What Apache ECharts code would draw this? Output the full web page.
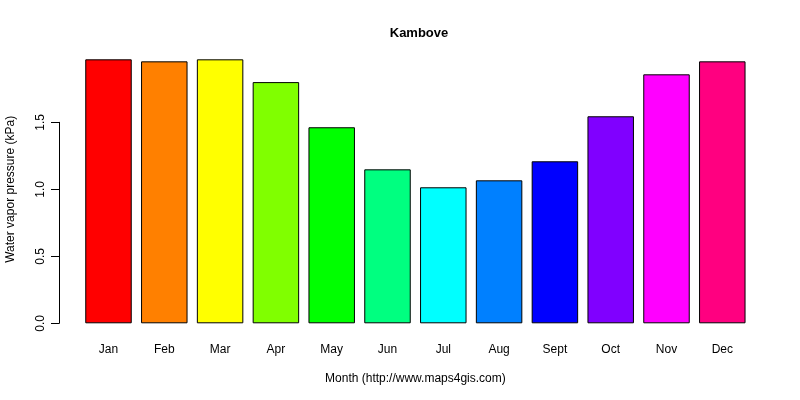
<!DOCTYPE html>
<html>
<head>
<meta charset="utf-8">
<script src="https://cdn.jsdelivr.net/npm/echarts@6/dist/echarts.min.js"></script>
<style>
html, body { margin: 0; padding: 0; background: #fff; }
#chart { width: 800px; height: 400px; }
</style>
</head>
<body>
<div id="chart"></div>
<script>
// 月份与水汽压数据
var months = ['Jan', 'Feb', 'Mar', 'Apr', 'May', 'Jun', 'Jul', 'Aug', 'Sept', 'Oct', 'Nov', 'Dec'];
var vapor = [1.97, 1.955, 1.97, 1.80, 1.463, 1.149, 1.015, 1.067, 1.209, 1.545, 1.858, 1.955];
var barColors = ['#FF0000', '#FF8000', '#FFFF00', '#80FF00', '#00FF00', '#00FF80',
                 '#00FFFF', '#0080FF', '#0000FF', '#8000FF', '#FF00FF', '#FF0080'];
var yTicks = [0, 0.5, 1.0, 1.5];

var font = 'Liberation Sans, Arial, sans-serif';

var option = {
    animation: false,
    backgroundColor: '#fff',
    title: {
        text: 'Kambove',
        left: 414,
        textAlign: 'center',
        top: 22,
        textStyle: { fontFamily: font, fontSize: 13, fontWeight: 'bold', color: '#000' }
    },
    grid: [
        // 柱状图区域
        { left: 80.6, right: 49.8, top: 55.3, bottom: 76.7, outerBoundsMode: 'none', containLabel: false },
        // 只画纵轴 (0 - 1.5)
        { left: 59, width: 1, top: 122.3, bottom: 76.7, outerBoundsMode: 'none', containLabel: false }
    ],
    xAxis: [
        {
            gridIndex: 0,
            type: 'category',
            data: months,
            axisLine: { show: false },
            axisTick: { show: false },
            axisLabel: { fontFamily: font, fontSize: 12, color: '#000', margin: 20 },
            name: 'Month (http://www.maps4gis.com)',
            nameLocation: 'middle',
            nameGap: 49,
            nameTextStyle: { fontFamily: font, fontSize: 12, color: '#000' }
        },
        {
            gridIndex: 1,
            type: 'value',
            show: false
        }
    ],
    yAxis: [
        {
            gridIndex: 0,
            type: 'value',
            min: 0,
            max: 2,
            axisLine: { show: false },
            axisTick: { show: false },
            axisLabel: { show: false },
            splitLine: { show: false },
            name: 'Water vapor pressure (kPa)',
            nameLocation: 'middle',
            nameGap: 64,
            nameTextStyle: { fontFamily: font, fontSize: 12, color: '#000' }
        },
        {
            gridIndex: 1,
            type: 'value',
            min: yTicks[0],
            max: yTicks[yTicks.length - 1],
            interval: 0.5,
            axisLine: { show: true, lineStyle: { color: '#000', width: 1 } },
            axisTick: { show: true, length: 8, lineStyle: { color: '#000' } },
            axisLabel: {
                rotate: 90,
                fontFamily: font, fontSize: 12, color: '#000', margin: 12,
                formatter: function (v) { return v.toFixed(1); }
            },
            splitLine: { show: false }
        }
    ],
    series: [
        {
            type: 'bar',
            xAxisIndex: 0,
            yAxisIndex: 0,
            barWidth: '83.3%',
            data: vapor.map(function (v, i) {
                return { value: v, itemStyle: { color: barColors[i] } };
            }),
            itemStyle: { borderColor: '#000', borderWidth: 1 }
        }
    ]
};

var myChart = echarts.init(document.getElementById('chart'));
myChart.setOption(option);
</script>
</body>
</html>
